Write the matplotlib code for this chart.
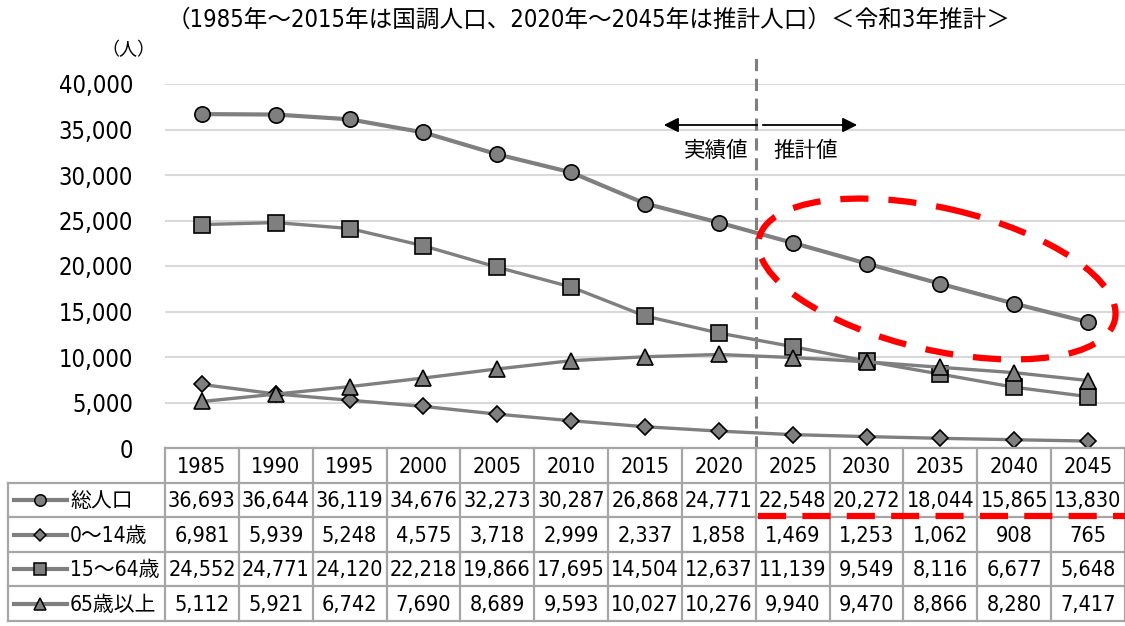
import matplotlib
matplotlib.use('Agg')
import matplotlib.pyplot as plt
from matplotlib.patches import Ellipse
from matplotlib.lines import Line2D

plt.rcParams['font.family'] = ['DejaVu Sans', 'Noto Sans CJK JP']
plt.rcParams['font.stretch'] = 'condensed'

# data
years = ['1985', '1990', '1995', '2000', '2005', '2010', '2015',
         '2020', '2025', '2030', '2035', '2040', '2045']
total = [36693, 36644, 36119, 34676, 32273, 30287, 26868, 24771, 22548, 20272, 18044, 15865, 13830]
age_0_14 = [6981, 5939, 5248, 4575, 3718, 2999, 2337, 1858, 1469, 1253, 1062, 908, 765]
age_15_64 = [24552, 24771, 24120, 22218, 19866, 17695, 14504, 12637, 11139, 9549, 8116, 6677, 5648]
age_65 = [5112, 5921, 6742, 7690, 8689, 9593, 10027, 10276, 9940, 9470, 8866, 8280, 7417]
series_names = ['総人口', '0～14歳', '15～64歳', '65歳以上']
series_vals = [total, age_0_14, age_15_64, age_65]
split_index = 7.5  # boundary between 2020 (actual) and 2025 (estimate)

title = '（1985年～2015年は国調人口、2020年～2045年は推計人口）＜令和3年推計＞'

W, H = 1125, 626
fig = plt.figure(figsize=(W / 100, H / 100), dpi=100)

gray = '#7f7f7f'
styles = [dict(marker='o', ms=11, lw=3.0),
          dict(marker='D', ms=8, lw=2.4),
          dict(marker='s', ms=11, lw=2.4),
          dict(marker='^', ms=11, lw=2.4)]

# main chart area (pixels: x 165-1125, y 84-448)
ax = fig.add_axes([165 / W, 1 - 448 / H, 960 / W, 364 / H])
x = list(range(len(years)))
for vals, st in zip(series_vals, styles):
    ax.plot(x, vals, color=gray, lw=st['lw'], marker=st['marker'], ms=st['ms'],
            mfc=gray, mec='black', mew=1.2, zorder=3)
ax.set_xlim(-0.5, len(years) - 0.5)
ax.set_ylim(0, 40000)
ax.set_yticks(range(0, 40001, 5000))
ax.set_yticklabels([f'{v:,}' for v in range(0, 40001, 5000)], fontsize=17)
ax.tick_params(axis='y', length=0, pad=23)
ax.set_xticks([])
ax.grid(axis='y', color='#d9d9d9', lw=1.5)
ax.set_axisbelow(True)
for s in ax.spines.values():
    s.set_visible(False)
ax.axvline(split_index, ymin=0, ymax=1.08, color=gray, lw=2.2, ls=(0, (4, 2.5)),
           clip_on=False, zorder=2)

# data table
n = len(years)
col_w = 960 / n
tab = fig.add_axes([0, 1 - 621 / H, 1, 173 / H], facecolor='none')
x0 = -0.5 - 165 / col_w
tab.set_xlim(x0, n - 0.5)
tab.set_ylim(5, 0)
tab.axis('off')
bc = '#a6a6a6'
left = x0 + 8 / col_w
tab.plot([-0.5, n - 0.5], [0, 0], color=bc, lw=1.6, clip_on=False)
for r in range(1, 6):
    tab.plot([left, n - 0.5], [r, r], color=bc, lw=1.6, clip_on=False)
tab.plot([left, left], [1, 5], color=bc, lw=1.6, clip_on=False)
for c in range(n + 1):
    tab.plot([c - 0.5, c - 0.5], [0, 5], color=bc, lw=1.6, clip_on=False)
for c, yr in enumerate(years):
    tab.text(c, 0.55, yr, ha='center', va='center', fontsize=15.5)
for r, (name, vals, st) in enumerate(zip(series_names, series_vals, styles)):
    yy = r + 1.5
    tab.add_line(Line2D([x0 + 14 / col_w, x0 + 67 / col_w], [yy, yy], color=gray, lw=3))
    tab.plot(x0 + 40 / col_w, yy, marker=st['marker'], ms=st['ms'] * 0.75, mfc=gray,
             mec='black', mew=1.1)
    tab.text(x0 + 70 / col_w, yy + 0.04, name, ha='left', va='center', fontsize=15)
    for c, v in enumerate(vals):
        tab.text(c, yy + 0.04, f'{v:,}', ha='center', va='center', fontsize=15.5)

# overlay in pixel units for annotations (drawn last, on top)
ov = fig.add_axes([0, 0, 1, 1], facecolor='none')
ov.set_xlim(0, W)
ov.set_ylim(H, 0)
ov.axis('off')
ov.text(589, 20, title, ha='center', va='center', fontsize=17)
ov.text(155, 50, '（人）', ha='right', va='center', fontsize=13)
ov.annotate('', xy=(661, 125), xytext=(760, 125),
            arrowprops=dict(arrowstyle='-|>', color='black', lw=1.3, mutation_scale=22))
ov.annotate('', xy=(860, 125), xytext=(760, 125),
            arrowprops=dict(arrowstyle='-|>', color='black', lw=1.3, mutation_scale=22))
ov.text(716, 151, '実績値', ha='center', va='center', fontsize=15.5)
ov.text(806, 151, '推計値', ha='center', va='center', fontsize=15.5)
ov.add_patch(Ellipse((937, 279), 365, 142, angle=13, fill=False, ec='#ff0000',
                     lw=4.5, ls=(0, (4.5, 3.2)), zorder=6))
ov.plot([758, W], [516, 516], color='#ff0000', lw=4.5, ls=(0, (4.5, 2.6)),
        zorder=6, solid_capstyle='butt', dash_capstyle='butt')

fig.savefig('out.png', dpi=100)
